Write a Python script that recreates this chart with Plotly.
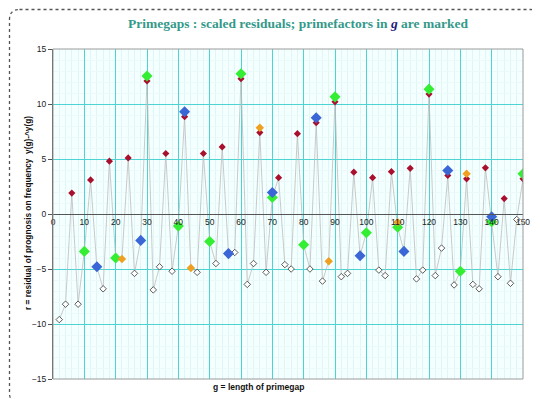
import plotly.graph_objects as go

# ---- data ----
gap_lengths = [2, 4, 6, 8, 10, 12, 14, 16, 18, 20, 22, 24, 26, 28, 30, 32, 34, 36, 38, 40,
               42, 44, 46, 48, 50, 52, 54, 56, 58, 60, 62, 64, 66, 68, 70, 72, 74, 76, 78, 80,
               82, 84, 86, 88, 90, 92, 94, 96, 98, 100, 102, 104, 106, 108, 110, 112, 114, 116, 118, 120,
               122, 124, 126, 128, 130, 132, 134, 136, 138, 140, 142, 144, 146, 148, 150]
residuals = [-9.6, -8.2, 1.9, -8.2, -3.4, 3.1, -4.8, -6.8, 4.8, -4.0, -4.1, 5.1, -5.4, -2.4, 12.1, -6.9, -4.8, 5.5, -5.2, -1.1,
             8.85, -4.9, -5.3, 5.5, -2.5, -4.5, 6.1, -3.6, -3.5, 12.3, -6.4, -4.5, 7.4, -5.3, 1.5, 3.3, -4.6, -5.0, 7.3, -2.8,
             -5.0, 8.3, -6.1, -4.3, 10.2, -5.7, -5.4, 3.8, -3.8, -1.7, 3.3, -5.1, -5.6, 3.85, -1.2, -3.4, 4.15, -5.9, -5.1, 10.9,
             -5.6, -3.1, 3.5, -6.45, -5.2, 3.2, -6.4, -6.8, 4.2, -0.7, -5.7, 1.4, -6.3, -0.5, 3.2]
marked_primes = [3, 5, 7, 11]
prime_colors = {3: "#A8102E", 5: "#33EE33", 7: "#3A66D6", 11: "#F0A020"}
prime_sizes = {3: 5.5, 5: 8.5, 7: 8.5, 11: 6.5}
stack_step = 0.45

W, H = 540, 399
L, R, T, B = 45, 25, 41, 28
PW, PH = W - L - R, H - T - B

def px2paper(x, y):
    return (x - L) / PW, (H - B - y) / PH

fig = go.Figure()

fig.add_trace(go.Scatter(x=gap_lengths, y=residuals, mode="lines",
                         line=dict(color="#BDBDBD", width=0.8), showlegend=False, hoverinfo="skip"))

# open diamonds: no marked prime factor
ox, oy = [], []
for g, r in zip(gap_lengths, residuals):
    if not any(g % p == 0 for p in marked_primes):
        ox.append(g); oy.append(r)
fig.add_trace(go.Scatter(x=ox, y=oy, mode="markers", showlegend=False,
                         marker=dict(symbol="diamond", size=5, color="white",
                                     line=dict(color="#333333", width=0.8))))

# coloured diamonds for each prime factor, stacked when several
series = {p: ([], []) for p in marked_primes}
for g, r in zip(gap_lengths, residuals):
    k = 0
    for p in marked_primes:
        if g % p == 0:
            series[p][0].append(g)
            series[p][1].append(r + k * stack_step)
            k += 1
for p in marked_primes:
    xs, ys = series[p]
    fig.add_trace(go.Scatter(x=xs, y=ys, mode="markers", showlegend=False, name=f"p={p}",
                             marker=dict(symbol="diamond", size=prime_sizes[p], color=prime_colors[p],
                                         line=dict(width=0))))

grid_major = "#4ED3D3"
grid_minor = "#E2F5F5"

fig.update_layout(
    width=W, height=H,
    margin=dict(l=L, r=R, t=T, b=B),
    paper_bgcolor="white",
    plot_bgcolor="#F4FFFF",
    title=dict(text="Primegaps : scaled residuals; primefactors in <i><span style='color:#1C1C7A'>g</span></i> are marked",
               x=0.537, xanchor="center", y=0.962, yanchor="middle",
               font=dict(family="Liberation Serif, DejaVu Serif, serif", size=13.5, color="#33998A", weight="bold")),
    xaxis=dict(range=[0, 150], tick0=0, dtick=10, anchor="free", position=0.5,
               showline=True, linecolor="#555555", linewidth=1, ticks="",
               showgrid=True, gridcolor=grid_major, gridwidth=1, zeroline=False,
               minor=dict(dtick=2, showgrid=True, gridcolor=grid_minor, gridwidth=0.5),
               tickfont=dict(family="Liberation Sans, Arial, sans-serif", size=8.5, color="#222222")),
    yaxis=dict(range=[-15, 15], tick0=-15, dtick=5, showline=True, linecolor="#555555", linewidth=1,
               ticks="outside", ticklen=4, tickcolor="#555555",
               showgrid=True, gridcolor=grid_major, gridwidth=1, zeroline=False,
               minor=dict(dtick=1, showgrid=True, gridcolor="#ECF9F9", gridwidth=0.5),
               tickfont=dict(family="Liberation Sans, Arial, sans-serif", size=8.5, color="#222222")),
)

# plot-area border
fig.add_shape(type="rect", xref="paper", yref="paper", x0=0, y0=0, x1=1, y1=1,
              line=dict(color="#9A9A9A", width=1), layer="above")

# outer dotted chart frame with rounded corners
x0, y0 = px2paper(1.5, 1.5)
x1, y1 = px2paper(533, 395)
rx, ry = 10 / PW, 10 / PH
path = (f"M {x0+rx} {y0} L {x1-rx} {y0} Q {x1} {y0} {x1} {y0-ry} "
        f"L {x1} {y1+ry} Q {x1} {y1} {x1-rx} {y1} L {x0+rx} {y1} Q {x0} {y1} {x0} {y1+ry} "
        f"L {x0} {y0-ry} Q {x0} {y0} {x0+rx} {y0} Z")
fig.add_shape(type="path", xref="paper", yref="paper", path=path,
              line=dict(color="#555555", width=1.3, dash="dot"))
# shadow at lower-right corner
sx0, sy0 = px2paper(535, 375)
sx1, sy1 = px2paper(515, 397)
fig.add_shape(type="path", xref="paper", yref="paper",
              path=f"M {sx0} {sy0} Q {sx0} {sy1} {sx1} {sy1}",
              line=dict(color="#111111", width=2.5))

# axis titles
ax, ay = px2paper(250, 386)
fig.add_annotation(text="<b>g = length of primegap</b>", xref="paper", yref="paper", x=ax, y=ay,
                   showarrow=False, font=dict(family="Liberation Sans, Arial, sans-serif", size=8.5, color="#111111"))
bx, by = px2paper(13, 205)
fig.add_annotation(text="<b>r = residual of prognosis on frequency  y(g)-^y(g)</b>", xref="paper", yref="paper",
                   x=bx, y=by, textangle=-90, showarrow=False,
                   font=dict(family="Liberation Sans, Arial, sans-serif", size=8.3, color="#111111"))

fig.write_html("out.html")
